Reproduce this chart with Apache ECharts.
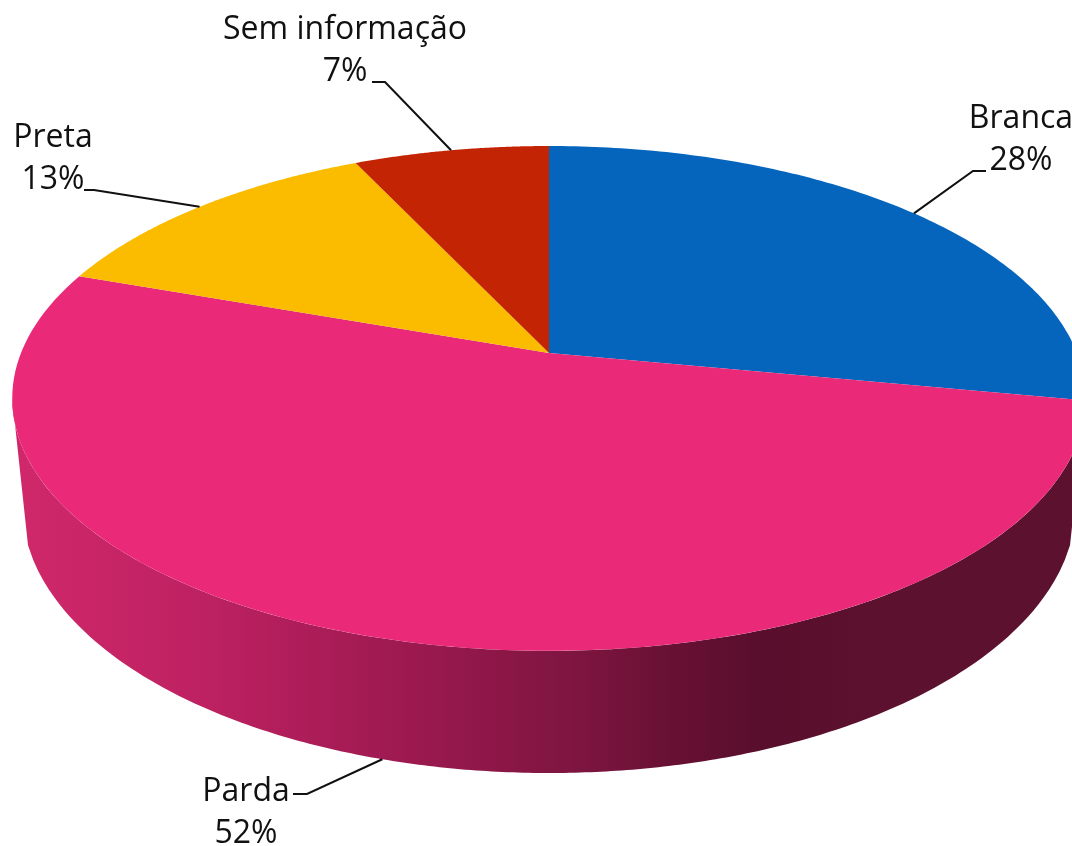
<!DOCTYPE html>
<html>
<head>
<meta charset="utf-8">
<title>Pie</title>
<style>
    html, body { margin: 0; background: #fff; }
    #chart_main { width: 1072px; height: 846px; }
</style>
<script src="https://cdn.jsdelivr.net/npm/echarts@6/dist/echarts.min.js"></script>
</head>
<body>
<div id="chart_main"></div>
<script>
var categories = ['Branca', 'Parda', 'Preta', 'Sem informação'];
var shares = [28, 52.4, 12.6, 7];
var sliceColors = ['#0565bd', '#ea2a79', '#fbbc00', '#c32504'];

// where each label sits and where its leader bends
var labelCenters = [[1021, 119], [246, 792], [53, 138], [345, 30]];
var leaderStarts = [[986, 171], [293, 794], [84, 190], [372, 82]];
var leaderBends = [[973, 171], [307, 794], [94, 190], [385, 82]];

// perspective of the disc: top face, then the rim under it
var disc = { cx: 549, apexY: 353, depthY: 180.7, tilt: -0.18, radius: 528 };
var rim = { cx: 549, cy: 505, rx: 527, ry: 268, halfWidth: 521 };
var font = '32px "Open Sans"';

// fraction of the circle, clockwise from the top, to a pixel on the top face
function topPoint(frac) {
    var a = frac * Math.PI * 2;
    var u = Math.sin(a);
    var v = -Math.cos(a);
    var d = 1 + disc.tilt * v;
    return [disc.cx + disc.radius * u / d, (disc.apexY + disc.depthY * v) / d];
}

function rimY(x) {
    var t = (x - rim.cx) / rim.rx;
    return rim.cy + rim.ry * Math.sqrt(Math.max(0, 1 - t * t));
}

function sliceStart(i) {
    var total = shares.reduce(function (s, v) { return s + v; }, 0);
    var sum = 0;
    for (var k = 0; k < i; k++) sum += shares[k];
    return sum / total;
}

function renderWall(params, api) {
    var pts = [];
    var i;
    // front arc of the top face between its two widest points
    var side = Math.acos(disc.tilt) / (Math.PI * 2);
    for (i = 0; i <= 200; i++) {
        pts.push(topPoint(side + (1 - 2 * side) * i / 200));
    }
    for (i = 0; i <= 200; i++) {
        var x = rim.cx - rim.halfWidth + 2 * rim.halfWidth * i / 200;
        pts.push([x, rimY(x)]);
    }
    return {
        type: 'polygon',
        shape: { points: pts },
        style: {
            fill: new echarts.graphic.LinearGradient(0, 0, 1, 0, [
                { offset: 0, color: '#d0286b' },
                { offset: 0.18, color: '#bd2161' },
                { offset: 0.35, color: '#a01a52' },
                { offset: 0.52, color: '#7f1540' },
                { offset: 0.62, color: '#671034' },
                { offset: 0.7, color: '#580e2c' },
                { offset: 0.8, color: '#5c112e' },
                { offset: 1, color: '#5c112e' }
            ])
        }
    };
}

function renderSlice(params, api) {
    var i = api.value(0);
    var from = sliceStart(i);
    var span = api.value(1) / 100;
    var pts = [[disc.cx, disc.apexY]];
    for (var k = 0; k <= 120; k++) {
        pts.push(topPoint(from + span * k / 120));
    }
    return {
        type: 'polygon',
        shape: { points: pts },
        style: { fill: sliceColors[i] }
    };
}

function renderLabel(params, api) {
    var i = api.value(0);
    var end = topPoint(sliceStart(i) + api.value(1) / 200);
    // the front slice hangs its leader from the rim, the others from the top edge
    if (end[1] > disc.apexY) end = [end[0], rimY(end[0])];
    var c = labelCenters[i];
    return {
        type: 'group',
        children: [
            {
                type: 'polyline',
                shape: { points: [leaderStarts[i], leaderBends[i], end] },
                style: { fill: null, stroke: '#111', lineWidth: 2 }
            },
            {
                type: 'text',
                style: {
                    text: categories[i], x: c[0], y: c[1],
                    textAlign: 'center', textVerticalAlign: 'middle',
                    font: font, fill: '#111'
                }
            },
            {
                type: 'text',
                style: {
                    text: Math.round(api.value(1)) + '%', x: c[0], y: c[1] + 42,
                    textAlign: 'center', textVerticalAlign: 'middle',
                    font: font, fill: '#111'
                }
            }
        ]
    };
}

var rows = shares.map(function (v, i) { return [i, v]; });
var myChart = echarts.init(document.getElementById('chart_main'), null, { renderer: 'canvas' });
myChart.setOption({
    animation: false,
    backgroundColor: '#fff',
    series: [
        { type: 'custom', coordinateSystem: 'none', silent: true, renderItem: renderWall, data: [rows[1]], clip: false },
        { type: 'custom', coordinateSystem: 'none', silent: true, renderItem: renderSlice, data: rows, clip: false },
        { type: 'custom', coordinateSystem: 'none', silent: true, renderItem: renderLabel, data: rows, clip: false }
    ]
});
</script>
</body>
</html>
